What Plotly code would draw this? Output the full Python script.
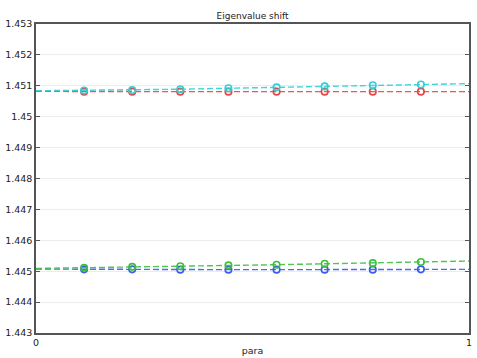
import plotly.graph_objects as go

para = [i / 9 for i in range(10)]
cyan_vals = [1.45084, 1.45085, 1.45086, 1.45089, 1.45092, 1.45095, 1.45098, 1.45102, 1.45104, 1.45107]
red_vals = [1.45082, 1.45081, 1.45081, 1.45081, 1.45081, 1.45081, 1.45081, 1.45081, 1.45081, 1.45081]
green_vals = [1.44509, 1.44511, 1.44514, 1.44516, 1.44519, 1.44521, 1.44524, 1.44526, 1.44530, 1.44533]
blue_vals = [1.44507, 1.44506, 1.44506, 1.44505, 1.44505, 1.44505, 1.44505, 1.44505, 1.44506, 1.44506]

y_ticks = [1.443, 1.444, 1.445, 1.446, 1.447, 1.448, 1.449, 1.45, 1.451, 1.452, 1.453]
y_labels = ["1.443", "1.444", "1.445", "1.446", "1.447", "1.448", "1.449", "1.45", "1.451", "1.452", "1.453"]

series = [
    (blue_vals, "#3a5cf0"),
    (green_vals, "#3cc03c"),
    (red_vals, "#e84545"),
    (cyan_vals, "#2ed0d6"),
]

fig = go.Figure()
for vals, col in series:
    fig.add_trace(go.Scatter(x=para, y=vals, mode="lines",
                             line=dict(color=col, width=1.4, dash="6px,3px"),
                             opacity=0.9, showlegend=False))
    fig.add_trace(go.Scatter(x=para[1:-1], y=vals[1:-1], mode="markers",
                             marker=dict(symbol="circle-open", size=6.5, color=col,
                                         line=dict(width=1.6, color=col)),
                             showlegend=False))

fig.update_layout(
    width=477, height=358,
    margin=dict(l=36, r=8, t=24, b=25, autoexpand=False),
    paper_bgcolor="white", plot_bgcolor="white",
    font=dict(family="DejaVu Sans", size=9.5, color="#222"),
    title=dict(text="Eigenvalue shift", x=0.5, xanchor="center",
               xref="paper", yref="container",
               y=1 - 16 / 358, yanchor="middle", font=dict(size=9), automargin=False),
    xaxis=dict(range=[0, 1], tickvals=[0, 1], ticktext=["0", "1"], showgrid=False,
               zeroline=False, showline=True, linecolor="#555", linewidth=1.5,
               mirror=True, ticks="", ticklen=0, automargin=False,
               title=dict(text="para", standoff=0, font=dict(size=9.5))),
    yaxis=dict(range=[1.443, 1.453], tickvals=y_ticks, ticktext=y_labels,
               showgrid=True, gridcolor="#ececec", gridwidth=1, zeroline=False,
               showline=True, linecolor="#555", linewidth=1.5, mirror="ticks",
               ticks="inside", ticklen=4, tickcolor="#555", automargin=False),
)

fig.write_html("out.html", config={"displayModeBar": False},
               post_script="document.body.style.margin='0';")
